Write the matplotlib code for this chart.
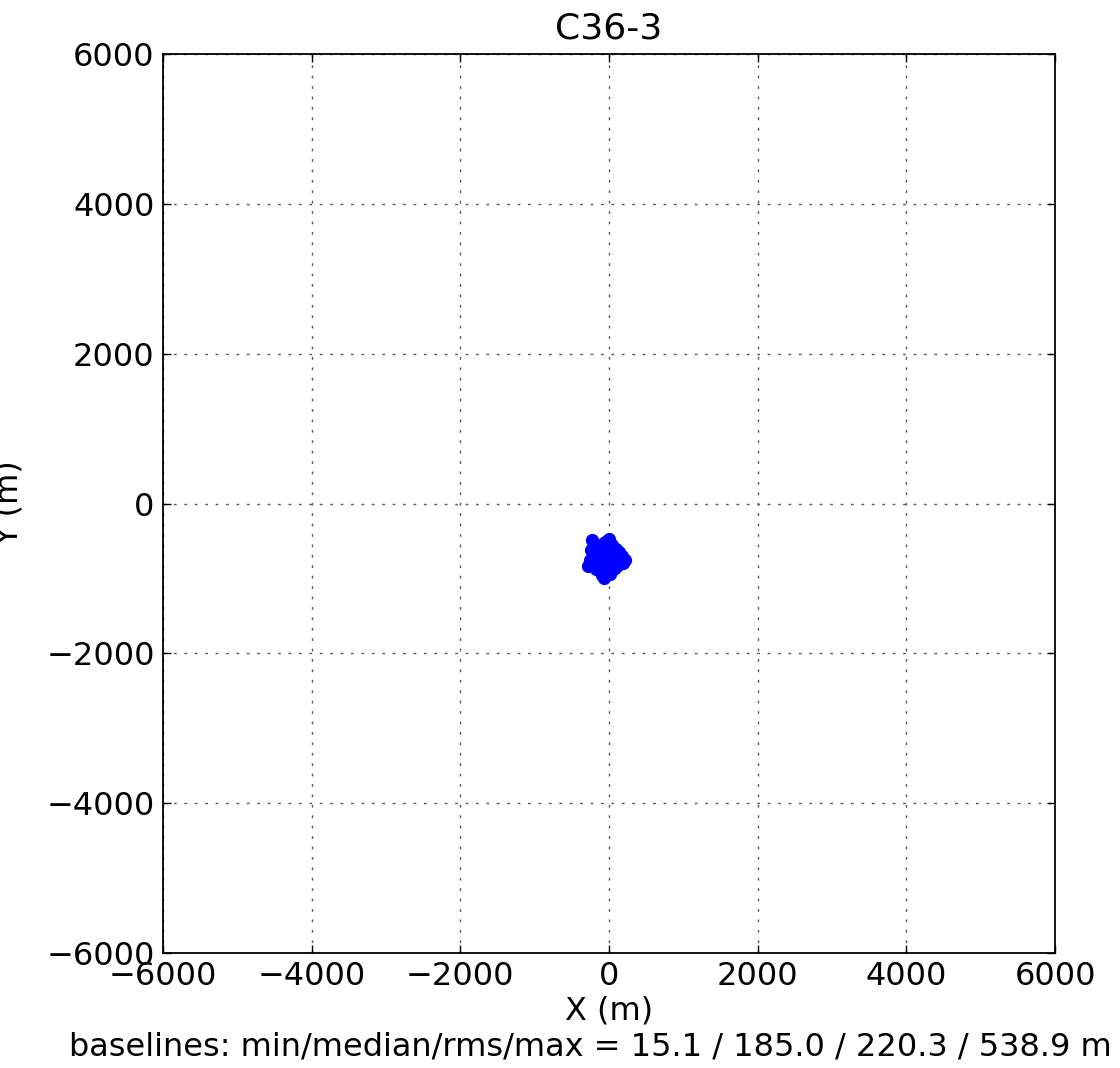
import numpy as np
import matplotlib
matplotlib.use('Agg')
import matplotlib.pyplot as plt

# antenna positions (m)
x_pos = [-230, -200, -160, -120, -60, 0, 40, 90, 130, 170, 215, 190,
         150, 100, 60, 20, -20, -70, -110, -150, -190, -240, -280, -250,
         -210, -170, -130, -90, -50, -70, 10, 50, 80, 120, -30, -100]
y_pos = [-490, -540, -600, -560, -520, -470, -560, -610, -650, -700, -750, -800,
         -760, -720, -680, -640, -700, -660, -620, -700, -660, -620, -840, -760,
         -820, -880, -780, -840, -900, -995, -940, -880, -860, -820, -780, -960]

title = 'C36-3'
stats_text = 'baselines: min/median/rms/max = 15.1 / 185.0 / 220.3 / 538.9 m'


def main():
    plt.rcParams['font.family'] = 'DejaVu Sans'
    plt.rcParams['font.size'] = 23

    fig = plt.figure(figsize=(11.2, 10.68), dpi=100)
    ax = fig.add_axes([0.1455, 0.1077, 0.7965, 0.8417])

    ax.plot(x_pos, y_pos, 'o', color='blue', markeredgecolor='blue', markersize=8.5)

    ax.set_xlim(-6000, 6000)
    ax.set_ylim(-6000, 6000)
    ticks = np.arange(-6000, 6001, 2000)
    ax.set_xticks(ticks)
    ax.set_yticks(ticks)
    ax.grid(True, linestyle=(0, (2, 5.5)), color='0.35', linewidth=1)
    ax.tick_params(direction='in', length=6, width=1, top=True, right=True, pad=6)
    for s in ax.spines.values():
        s.set_linewidth(1.3)

    ax.set_title(title, fontsize=26, pad=11)
    ax.set_xlabel('X (m)', labelpad=2)
    ax.set_ylabel('Y (m)')
    ax.yaxis.set_label_coords(-0.155, 0.5)

    fig.text(590 / 1120, 1 - 1047 / 1068, stats_text, ha='center', va='center', fontsize=23)

    fig.savefig('out.png', dpi=100)


if __name__ == "__main__":
    main()
